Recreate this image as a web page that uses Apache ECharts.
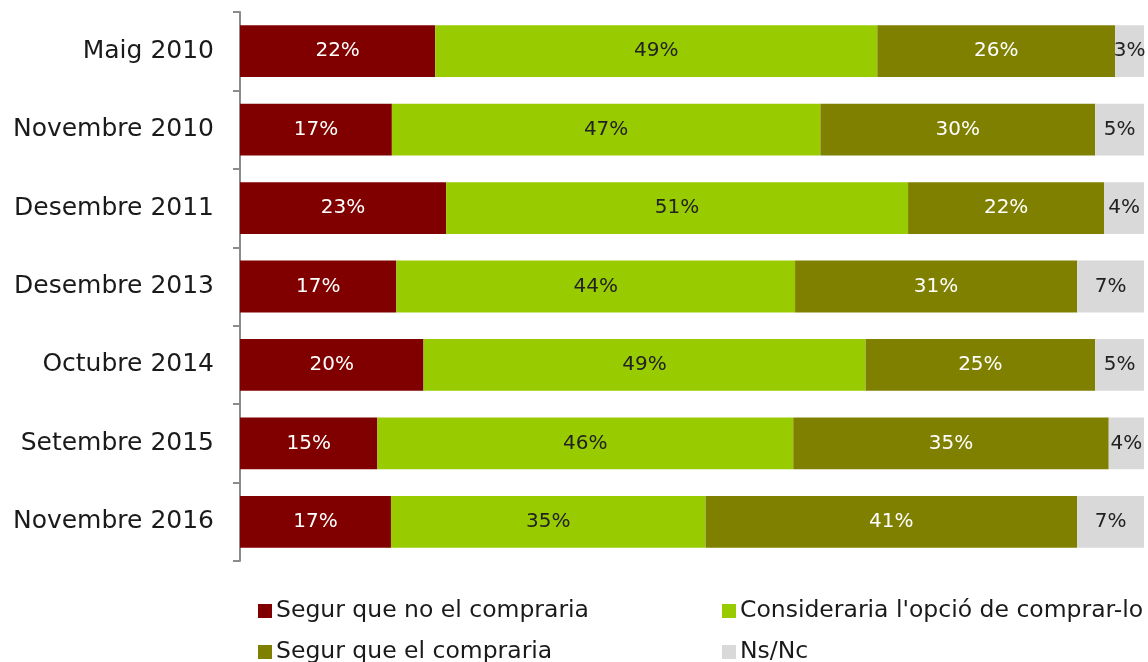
<!DOCTYPE html>
<html>
<head>
<meta charset="utf-8">
<script src="https://cdn.jsdelivr.net/npm/echarts@6/dist/echarts.min.js"></script>
<style>html,body{margin:0;padding:0;background:#fff}#c{width:1148px;height:662px}</style>
</head>
<body>
<div id="c"></div>
<script>
const categories = ['Maig 2010','Novembre 2010','Desembre 2011','Desembre 2013','Octubre 2014','Setembre 2015','Novembre 2016'];
const seriesNames = ['Segur que no el compraria',"Consideraria l'opció de comprar-lo",'Segur que el compraria','Ns/Nc'];
const noCompraria = [21.6, 16.8, 22.8, 17.3, 20.3, 15.2, 16.7];
const consideraria = [48.9, 47.4, 51.1, 44.1, 48.9, 46.0, 34.8];
const compraria = [26.3, 30.4, 21.7, 31.2, 25.4, 34.9, 41.1];
const nsnc = [3.2, 5.4, 4.4, 7.4, 5.4, 3.9, 7.4];

const colors = ['#800000','#99CC00','#808000','#D9D9D9'];
const labelColors = ['#ffffff','#222222','#ffffff','#222222'];
const FONT = 'DejaVu Sans';
const values = [noCompraria, consideraria, compraria, nsnc];
const legendPos = [[258,599],[722,599],[258,640],[722,640]];

const chart = echarts.init(document.getElementById('c'), null, {renderer:'canvas'});
chart.setOption({
  animation:false,
  textStyle:{fontFamily:FONT},
  grid:{left:240, right:4, top:12, height:549},
  xAxis:{type:'value', min:0, max:100, show:false},
  yAxis:{type:'category', inverse:true, data:categories,
    axisLine:{show:true, lineStyle:{color:'#8c8c8c', width:2}},
    axisTick:{show:true, length:7, lineStyle:{color:'#8c8c8c', width:2}},
    axisLabel:{fontSize:25, color:'#1a1a1a', margin:26, fontFamily:FONT}
  },
  legend: seriesNames.map((n,i)=>({
    data:[n], left:legendPos[i][0], top:legendPos[i][1], itemWidth:14, itemHeight:14, itemGap:4, icon:'rect',
    padding:0, textStyle:{fontSize:23.5, color:'#1a1a1a', fontFamily:FONT, padding:[0,0,0,-1]}
  })),
  series: seriesNames.map((n,i)=>({
    name:n, type:'bar', stack:'total', data:values[i], barCategoryGap:'34%',
    itemStyle:{color:colors[i]},
    label:{show:true, position:'inside', fontSize:20, color:labelColors[i], fontFamily:FONT,
      formatter:p=>Math.round(p.value)+'%'}
  }))
});
</script>
</body>
</html>
